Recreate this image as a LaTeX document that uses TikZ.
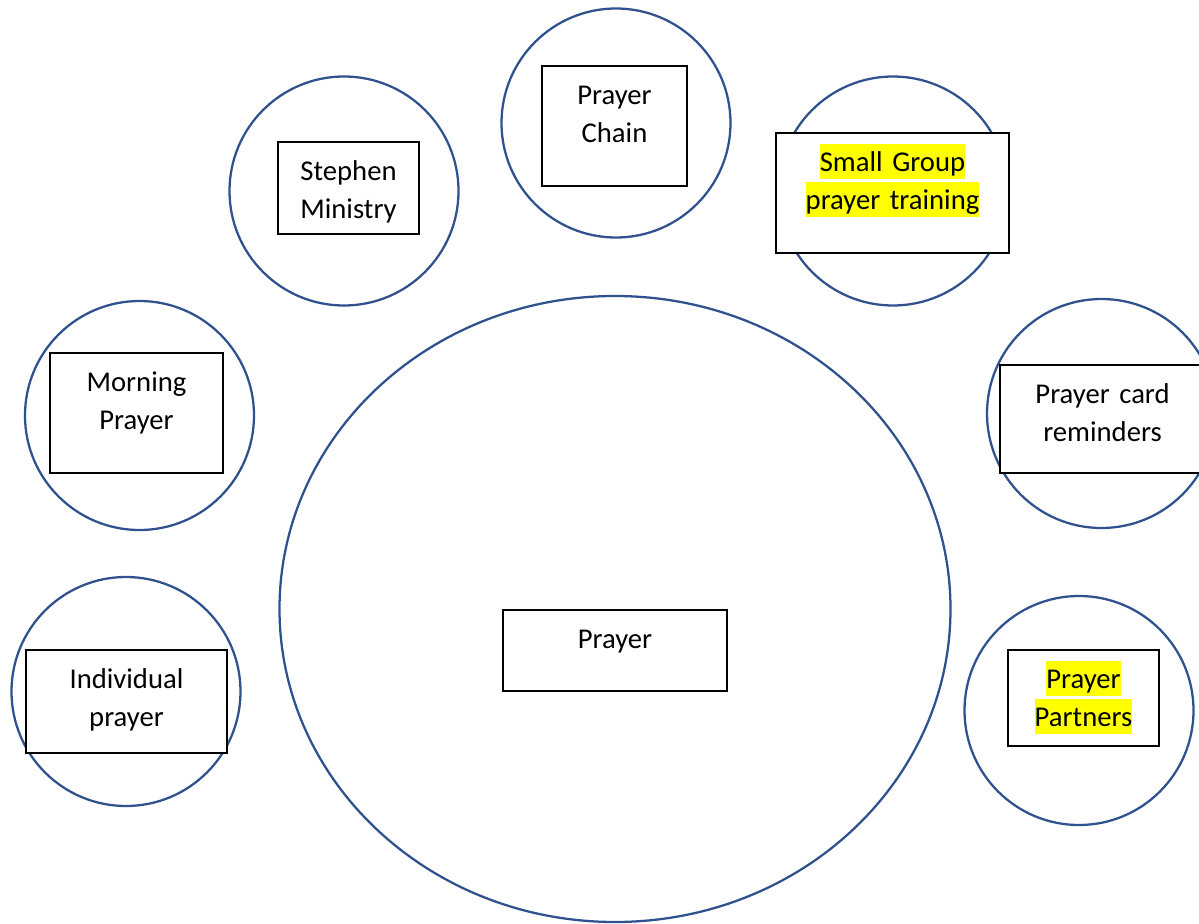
\documentclass[tikz,border=0pt]{standalone}
\usepackage{fontspec}
\setmainfont{Carlito}
\usepackage{xcolor}
\usetikzlibrary{shapes.geometric,fit}
\definecolor{ringblue}{HTML}{2F528F}
\definecolor{hlyellow}{HTML}{FFFF00}
\newcommand{\marker}[1]{{\setlength{\fboxsep}{0pt}\colorbox{hlyellow}{\rule[-0.27em]{0pt}{1.22em}#1}}}

\begin{document}
\begin{tikzpicture}[x=0.75pt,y=-0.75pt,
    ring/.style={circle,draw=ringblue,line width=1.7pt,minimum size=171.75pt,inner sep=0pt},
    hub/.style={ellipse,draw=ringblue,line width=1.7pt,minimum width=503.25pt,minimum height=469.5pt,inner sep=0pt},
    card/.style={rectangle,draw=black,line width=1.4pt,fill=white,inner sep=0pt},
    caption/.style={anchor=base,align=center,text width=200pt,inner sep=0pt,font=\fontsize{21.5pt}{28.5pt}\selectfont}]

\useasboundingbox (0,0) rectangle (1199,924);

% circles
\node[hub] (prayerring) at (615,609) {};
\node[ring] (chainring) at (616,123) {};
\node[ring] (stephenring) at (344,191) {};
\node[ring] (groupring) at (893,191) {};
\node[ring] (morningring) at (139.5,415.5) {};
\node[ring] (cardring) at (1101.5,413.5) {};
\node[ring] (individualring) at (126,691.5) {};
\node[ring] (partnersring) at (1079,710.5) {};

% boxes
\node[card, fit={(503,610) (727,691)}] (prayerbox) {};
\node[card, fit={(542,66) (687,186)}] (chainbox) {};
\node[card, fit={(278,142) (419,234)}] (stephenbox) {};
\node[card, fit={(776,133) (1009,253)}] (groupbox) {};
\node[card, fit={(50,353) (223,473)}] (morningbox) {};
\node[card, fit={(1000,365) (1205,473)}] (cardbox) {};
\node[card, fit={(26,650) (227,753)}] (individualbox) {};
\node[card, fit={(1008,650) (1159,746)}] (partnersbox) {};

% texts
\node[caption] (prayertext) at ([yshift=-29.5pt]prayerbox.north) {Prayer};
\node[caption] (chaintext) at ([yshift=-29.5pt]chainbox.north) {Prayer\\Chain};
\node[caption] (stephentext) at ([yshift=-29.5pt]stephenbox.north) {Stephen\\Ministry};
\node[caption] (grouptext) at ([yshift=-29.5pt]groupbox.north) {\marker{Small Group}\\\marker{prayer training}};
\node[caption] (morningtext) at ([yshift=-29.5pt]morningbox.north) {Morning\\Prayer};
\node[caption] (cardtext) at ([yshift=-29.5pt]cardbox.north) {Prayer card\\reminders};
\node[caption] (individualtext) at ([yshift=-29.5pt]individualbox.north) {Individual\\prayer};
\node[caption] (partnerstext) at ([yshift=-29.5pt]partnersbox.north) {\marker{Prayer}\\\marker{Partners}};

\end{tikzpicture}
\end{document}
